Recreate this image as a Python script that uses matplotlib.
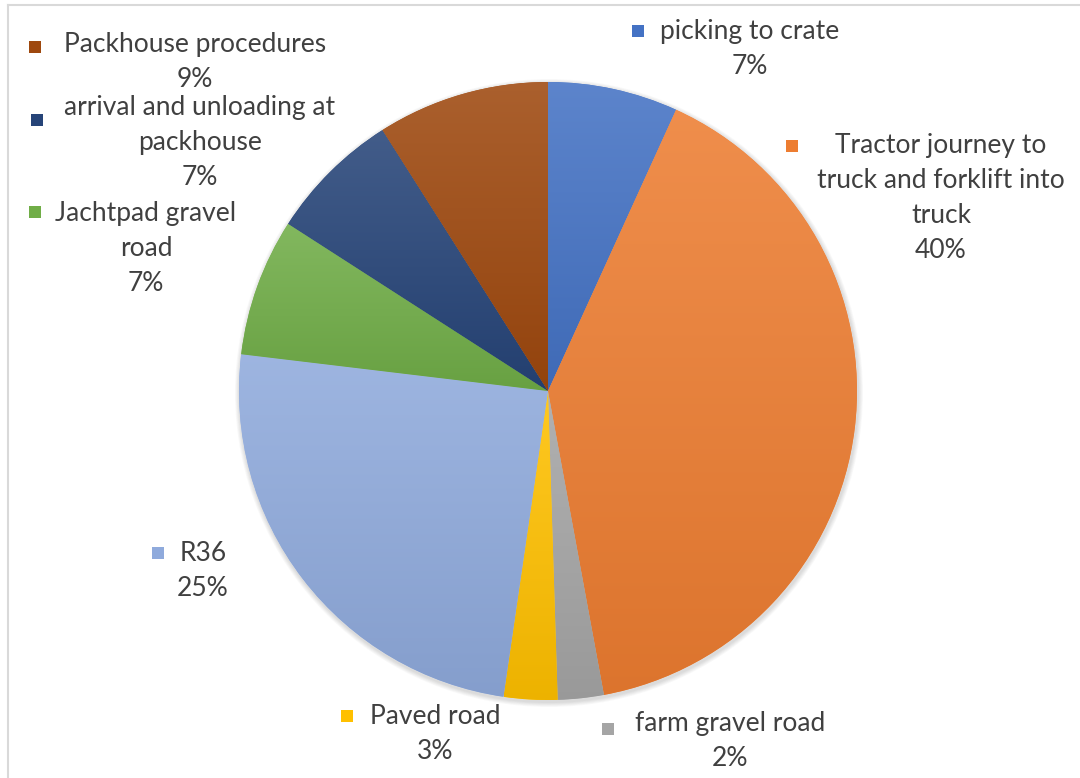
import matplotlib.pyplot as plt
import numpy as np
from matplotlib.colors import to_rgb
from matplotlib.patches import Circle

W, H = 1080, 778

# share of each step, clockwise from 12 o'clock
names = ['picking to crate',
         'Tractor journey to\ntruck and forklift into\ntruck',
         'farm gravel road',
         'Paved road',
         'R36',
         'Jachtpad gravel\nroad',
         'arrival and unloading at\npackhouse',
         'Packhouse procedures']
values = [6.8, 40.3, 2.4, 2.8, 24.6, 7.2, 6.9, 9.0]
colors = ['#4472C4', '#ED7D31', '#A5A5A5', '#FFC000',
          '#8FAADC', '#70AD47', '#264478', '#9E480E']

# label placement in pixels from the top-left: first line centre, marker
label_xy = [(750, 31), (941, 145), (730, 723), (435, 716),
            (203, 553), (146, 213), (200, 107), (195, 44)]
marker_xy = [(638, 31), (792, 146), (608, 729), (347, 716),
             (158, 553), (35, 212), (37, 120), (35, 47)]

plt.rcParams['font.family'] = ['Lato', 'DejaVu Sans']

fig = plt.figure(figsize=(W / 100, H / 100), dpi=100)
ax = fig.add_axes([0, 0, 1, 1])

cx, cy, r = 548, H - 391, 309

# soft shadow round the pie
for k in range(6):
    ax.add_patch(Circle((cx + 1, cy - 2), r + 1 + k * 0.8, color='black',
                        alpha=0.025, lw=0, zorder=0))
ax.add_patch(Circle((cx, cy), r, color='white', lw=0, zorder=0.5))

wedges, _ = ax.pie(values, center=(cx, cy), radius=r, startangle=90,
                   counterclock=False, colors=colors,
                   wedgeprops=dict(linewidth=0))


def shade(c, t):
    c = np.array(to_rgb(c))
    if t >= 0:
        return c + (1 - c) * t
    return c * (1 + t)


# top-to-bottom gradient inside each slice
for w, c in zip(wedges, colors):
    bb = w.get_path().get_extents()
    top, bot = shade(c, 0.13), shade(c, -0.07)
    t = np.linspace(0, 1, 256)[:, None]
    img = (top[None, :] * (1 - t) + bot[None, :] * t)[:, None, :]
    im = ax.imshow(img, extent=(bb.x0, bb.x1, bb.y0, bb.y1), origin='upper',
                   aspect='auto', interpolation='bilinear', zorder=1)
    im.set_clip_path(w)
    w.set_zorder(0.8)

for name, v, c, (tx, ty), (mx, my) in zip(names, values, colors,
                                          label_xy, marker_xy):
    ax.text(tx, H - ty + 12, f'{name}\n{v:.0f}%', ha='center', va='top',
            fontsize=19, color='#404040', linespacing=1.5)
    ax.plot(mx, H - my, marker='s', markersize=9, color=c, mew=0,
            linestyle='none')

# frame edges at top and left
ax.plot([8, 8], [0, H - 5], color='#d9d9d9', lw=1.5)
ax.plot([8, W], [H - 5, H - 5], color='#d9d9d9', lw=1.5)

ax.set_xlim(0, W)
ax.set_ylim(0, H)
ax.set_aspect('auto')
ax.axis('off')

fig.savefig('out.png', dpi=100, facecolor='white')
